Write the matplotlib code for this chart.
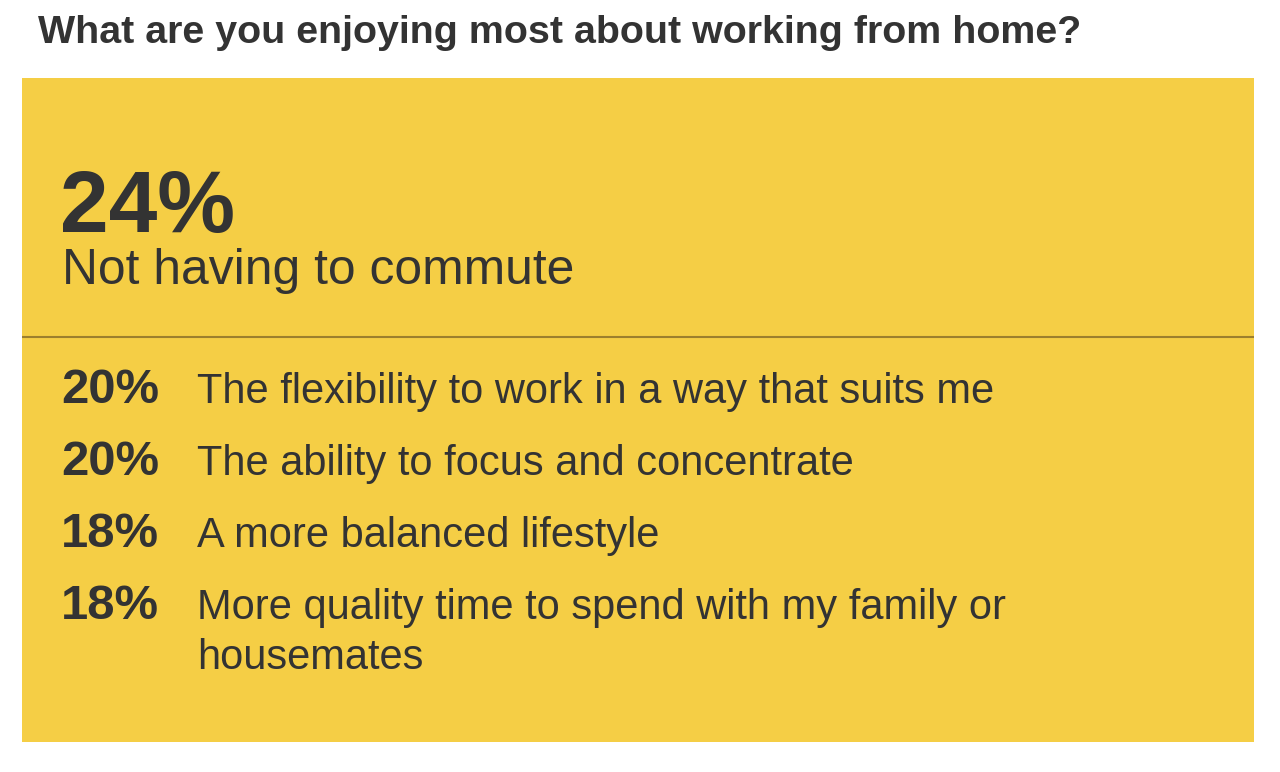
import matplotlib.pyplot as plt
from matplotlib.patches import Rectangle

plt.rcParams["font.family"] = ["Liberation Sans", "DejaVu Sans"]

title = "What are you enjoying most about working from home?"
top_value = 24
top_label = "Not having to commute"
values = [20, 20, 18, 18]
labels = [
    "The flexibility to work in a way that suits me",
    "The ability to focus and concentrate",
    "A more balanced lifestyle",
    "More quality time to spend with my family or housemates",
]

YELLOW = "#f5ce45"
INK = "#333333"
RULE = "#9c7f2d"
W, H = 1280, 772
DPI = 100


def wrap_label(ax, text, max_px, size):
    # greedy wrap by measured pixel width
    renderer = ax.figure.canvas.get_renderer()
    lines, cur = [], ""
    for word in text.split():
        trial = (cur + " " + word).strip()
        t = ax.text(0, 0, trial, fontsize=size)
        wpx = t.get_window_extent(renderer).width
        t.remove()
        if wpx > max_px and cur:
            lines.append(cur)
            cur = word
        else:
            cur = trial
    lines.append(cur)
    return lines


fig = plt.figure(figsize=(W / DPI, H / DPI), dpi=DPI)
ax = fig.add_axes([0, 0, 1, 1])
ax.set_xlim(0, W)
ax.set_ylim(H, 0)
ax.axis("off")

ax.text(38, 43, title, fontsize=28.4, fontweight="bold", color=INK, va="baseline")

ax.add_patch(Rectangle((22, 78), 1232, 664, facecolor=YELLOW, edgecolor="none"))
ax.plot([22, 1254], [337, 337], color=RULE, lw=1.5, solid_capstyle="butt")

ax.text(60, 232, f"{top_value}%", fontsize=63, fontweight="bold", color=INK, va="baseline")
ax.text(62, 284, top_label, fontsize=35.8, color=INK, va="baseline")

label_size = 30
row_y = 403
for v, lab in zip(values, labels):
    ax.text(61, row_y, f"{v}%", fontsize=35.3, fontweight="bold", color=INK, va="baseline")
    lines = wrap_label(ax, lab, 860, label_size)
    for k, line in enumerate(lines):
        ax.text(197, row_y + 50 * k, line, fontsize=label_size, color=INK, va="baseline")
    row_y += 72 + 50 * (len(lines) - 1)

fig.savefig("out.png", dpi=DPI, facecolor="white")
